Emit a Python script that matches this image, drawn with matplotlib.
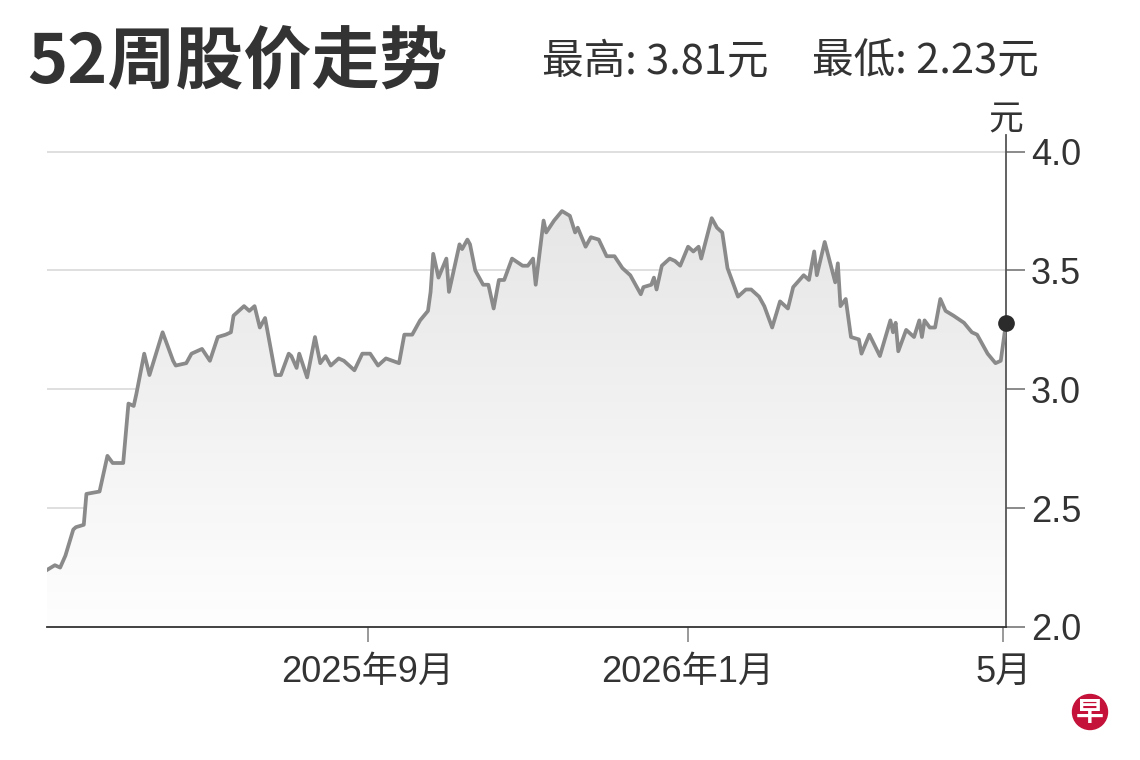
import numpy as np
import pandas as pd
import matplotlib
matplotlib.use('Agg')
import matplotlib.pyplot as plt
import matplotlib.dates as mdates
from matplotlib.colors import LinearSegmentedColormap
from matplotlib.patches import Circle

plt.rcParams['font.family'] = ['Liberation Sans', 'Noto Sans CJK SC', 'DejaVu Sans']

# 52周收盘价
dates = ['2025-05-02', '2025-05-05', '2025-05-07', '2025-05-09', '2025-05-12', '2025-05-13',
         '2025-05-16', '2025-05-17', '2025-05-22', '2025-05-25', '2025-05-27', '2025-05-31',
         '2025-06-02', '2025-06-04', '2025-06-05', '2025-06-08', '2025-06-10', '2025-06-15',
         '2025-06-19', '2025-06-20', '2025-06-24', '2025-06-26', '2025-06-30', '2025-07-03',
         '2025-07-06', '2025-07-09', '2025-07-11', '2025-07-12', '2025-07-16', '2025-07-18',
         '2025-07-20', '2025-07-22', '2025-07-24', '2025-07-28', '2025-07-30', '2025-08-02',
         '2025-08-03', '2025-08-05', '2025-08-06', '2025-08-09', '2025-08-12', '2025-08-14',
         '2025-08-16', '2025-08-18', '2025-08-21', '2025-08-23', '2025-08-27', '2025-08-30',
         '2025-09-02', '2025-09-05', '2025-09-08', '2025-09-13', '2025-09-15', '2025-09-18',
         '2025-09-21', '2025-09-24', '2025-09-25', '2025-09-26', '2025-09-28', '2025-10-01',
         '2025-10-02', '2025-10-03', '2025-10-06', '2025-10-07', '2025-10-09', '2025-10-10',
         '2025-10-12', '2025-10-15', '2025-10-17', '2025-10-19', '2025-10-21', '2025-10-23',
         '2025-10-26', '2025-10-30', '2025-11-01', '2025-11-03', '2025-11-04', '2025-11-07',
         '2025-11-08', '2025-11-11', '2025-11-14', '2025-11-17', '2025-11-19', '2025-11-20',
         '2025-11-23', '2025-11-25', '2025-11-28', '2025-12-01', '2025-12-04', '2025-12-07',
         '2025-12-10', '2025-12-14', '2025-12-15', '2025-12-18', '2025-12-19', '2025-12-20',
         '2025-12-22', '2025-12-25', '2025-12-27', '2025-12-29', '2026-01-01', '2026-01-03',
         '2026-01-05', '2026-01-06', '2026-01-10', '2026-01-12', '2026-01-14', '2026-01-16',
         '2026-01-20', '2026-01-23', '2026-01-25', '2026-01-28', '2026-01-30', '2026-02-02',
         '2026-02-05', '2026-02-08', '2026-02-10', '2026-02-14', '2026-02-16', '2026-02-18',
         '2026-02-19', '2026-02-22', '2026-02-26', '2026-02-27', '2026-02-28', '2026-03-02',
         '2026-03-04', '2026-03-07', '2026-03-08', '2026-03-11', '2026-03-15', '2026-03-19',
         '2026-03-20', '2026-03-21', '2026-03-22', '2026-03-25', '2026-03-28', '2026-03-30',
         '2026-03-31', '2026-04-01', '2026-04-03', '2026-04-05', '2026-04-07', '2026-04-09',
         '2026-04-12', '2026-04-16', '2026-04-19', '2026-04-21', '2026-04-25', '2026-04-28',
         '2026-04-30', '2026-05-02']
prices = [2.24, 2.26, 2.25, 2.30, 2.41, 2.42,
          2.43, 2.56, 2.57, 2.72, 2.69, 2.69,
          2.94, 2.93, 2.98, 3.15, 3.06, 3.24,
          3.12, 3.10, 3.11, 3.15, 3.17, 3.12,
          3.22, 3.23, 3.24, 3.31, 3.35, 3.33,
          3.35, 3.26, 3.30, 3.06, 3.06, 3.15,
          3.14, 3.09, 3.15, 3.05, 3.22, 3.11,
          3.14, 3.10, 3.13, 3.12, 3.08, 3.15,
          3.15, 3.10, 3.13, 3.11, 3.23, 3.23,
          3.29, 3.33, 3.41, 3.57, 3.47, 3.55,
          3.41, 3.46, 3.61, 3.59, 3.63, 3.61,
          3.50, 3.44, 3.44, 3.34, 3.46, 3.46,
          3.55, 3.52, 3.52, 3.55, 3.44, 3.71,
          3.66, 3.71, 3.75, 3.73, 3.66, 3.68,
          3.60, 3.64, 3.63, 3.56, 3.56, 3.51,
          3.48, 3.40, 3.43, 3.44, 3.47, 3.42,
          3.52, 3.55, 3.54, 3.52, 3.60, 3.58,
          3.60, 3.55, 3.72, 3.68, 3.66, 3.51,
          3.39, 3.42, 3.42, 3.39, 3.35, 3.26,
          3.37, 3.34, 3.43, 3.48, 3.46, 3.58,
          3.48, 3.62, 3.45, 3.53, 3.35, 3.38,
          3.22, 3.21, 3.15, 3.23, 3.14, 3.29,
          3.24, 3.28, 3.16, 3.25, 3.22, 3.29,
          3.22, 3.29, 3.26, 3.26, 3.38, 3.33,
          3.31, 3.28, 3.24, 3.23, 3.15, 3.11,
          3.12, 3.28]

tick_dates = ['2025-09-01', '2026-01-01', '2026-05-01']
tick_labels = ['2025年9月', '2026年1月', '5月']
y_ticks = [2.0, 2.5, 3.0, 3.5, 4.0]
high_52w = 3.81
low_52w = 2.23

x = mdates.date2num(pd.to_datetime(dates))
y = np.array(prices)

fig = plt.figure(figsize=(11.4, 7.6), dpi=100)
ax = fig.add_axes([47 / 1140, 133 / 760, 959 / 1140, 492 / 760])

ax.set_xlim(x[0], x[-1])
ax.set_ylim(2.0, 4.07)

# 渐变填充
cmap = LinearSegmentedColormap.from_list('g', ['#fefefe', '#e6e6e6'])
grad = np.linspace(0, 1, 256).reshape(-1, 1)
im = ax.imshow(grad, aspect='auto', cmap=cmap, origin='lower',
               extent=[x[0], x[-1], 2.0, y.max()], zorder=1)
poly = ax.fill_between(x, y, 2.0, color='none', zorder=1)
im.set_clip_path(poly.get_paths()[0], transform=ax.transData)

for t in y_ticks[1:]:
    ax.axhline(t, color='#dcdcdc', lw=1.3, zorder=0.5)

ax.plot(x, y, color='#8a8a8a', lw=2.7, zorder=3, solid_joinstyle='round')
ax.plot(x[-1], y[-1], 'o', color='#2b2b2b', ms=11, zorder=4, clip_on=False)

for s in ['top', 'left']:
    ax.spines[s].set_visible(False)
ax.spines['bottom'].set_color('#333333')
ax.spines['bottom'].set_linewidth(1.3)
ax.spines['right'].set_color('#555555')
ax.spines['right'].set_linewidth(1.3)

ax.yaxis.tick_right()
ax.set_yticks(y_ticks)
ax.set_yticklabels([f'{v:.1f}' for v in y_ticks])
ax.tick_params(axis='y', direction='out', length=14, width=1.2, color='#777777',
               labelsize=26, labelcolor='#333333', pad=4)

ax.set_xticks(mdates.date2num(pd.to_datetime(tick_dates)))
ax.set_xticklabels(tick_labels)
ax.tick_params(axis='x', direction='out', length=11, width=1.2, color='#888888',
               labelsize=26, labelcolor='#333333', pad=9)

ax.text(1.0, 0.995, '元', transform=ax.transAxes, ha='center', va='bottom',
        fontsize=25, color='#333333', family=['Noto Sans CJK SC'])

fig.text(27 / 1140, 1 - 64 / 760, '52周股价走势', fontsize=49, weight='bold',
         color='#333333', va='center', family=['Noto Sans CJK SC'])
fig.text(542 / 1140, 1 - 62 / 760, f'最高: {high_52w:.2f}元', fontsize=30,
         color='#333333', va='center', family=['Noto Sans CJK SC'])
fig.text(812 / 1140, 1 - 62 / 760, f'最低: {low_52w:.2f}元', fontsize=30,
         color='#333333', va='center', family=['Noto Sans CJK SC'])

# 早报标志
logo = Circle((10.90, 0.48), 0.175, transform=fig.dpi_scale_trans,
              color='#c4123a', zorder=5)
fig.patches.append(logo)
fig.text(1090 / 1140, 1 - 713 / 760, '早', fontsize=20, color='white', weight='bold',
         ha='center', va='center', family=['Noto Sans CJK SC'], zorder=6)

fig.savefig('out.png', dpi=100, facecolor='white')
